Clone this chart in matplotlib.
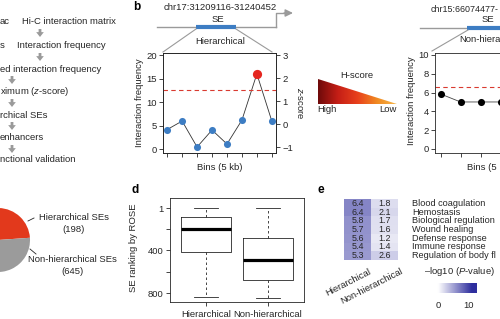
import numpy as np
import matplotlib
matplotlib.use("Agg")
import matplotlib.pyplot as plt
from matplotlib.colors import LinearSegmentedColormap
from matplotlib.patches import Polygon

plt.rcParams["font.family"] = ["Liberation Sans", "DejaVu Sans"]
plt.rcParams["mathtext.fontset"] = "custom"
plt.rcParams["mathtext.rm"] = "Liberation Sans"
plt.rcParams["mathtext.it"] = "Liberation Sans:italic"

W, H = 500, 319

# ---- data ----
se_counts = [198, 645]
se_names = ["Hierarchical SEs", "Non-hierarchical SEs"]

hier_bins = [0, 1, 2, 3, 4, 5, 6, 7]
hier_z = [-0.24, 0.13, -1.0, -0.26, -0.87, 0.17, 2.18, 0.13]
hub_bin = 6
hier_freq_ticks = [0, 5, 10, 15, 20]
z_ticks = [-1, 0, 1, 2, 3]
z_cutoff = 1.5

nonhier_bins = [0, 1, 2, 3]
nonhier_freq = [5.85, 5.0, 5.0, 5.0]
nonhier_freq_ticks = [0, 2, 4, 6, 8, 10]
nonhier_cutoff = 6.6

box_groups = ["Hierarchical", "Non-hierarchical"]
box_low = [1, 1]
box_q1 = [86, 283]
box_med = [198, 490]
box_q3 = [415, 678]
box_high = [838, 843]
rank_ticks = [1, 200, 400, 600, 800]
rank_labels = ["1", "", "400", "", "800"]

go_terms = ["Blood coagulation", "Hemostasis", "Biological regulation",
            "Wound healing", "Defense response", "Immune response",
            "Regulation of body fl"]
go_hier = [6.4, 6.4, 5.8, 5.7, 5.6, 5.4, 5.3]
go_nonhier = [1.8, 2.1, 1.7, 1.6, 1.2, 1.4, 2.6]
go_columns = ["Hierarchical", "Non-hierarchical"]

FS = 6.8
GRAY = "#9a9a9a"
BLUE = "#3d7dc3"
RED = "#e5261f"
DARK = "#262626"

fig = plt.figure(figsize=(W / 100, H / 100), dpi=100)
canvas = fig.add_axes([0, 0, 1, 1])
canvas.axis("off")


def px_axes(x0, y0, x1, y1):
    return fig.add_axes([x0 / W, 1 - y1 / H, (x1 - x0) / W, (y1 - y0) / H])


def txt(x, y, s, **kw):
    kw.setdefault("fontsize", FS)
    kw.setdefault("va", "center")
    kw.setdefault("color", DARK)
    canvas.text(x, y, s, **kw)


def down_arrow(x, y):
    canvas.annotate("", xy=(x, y + 4), xytext=(x, y - 4),
                    arrowprops=dict(arrowstyle="simple,head_width=0.55,head_length=0.35,tail_width=0.2",
                                    fc=GRAY, ec="none", shrinkA=0, shrinkB=0))


def r_style(ax):
    for sp in ax.spines.values():
        sp.set_linewidth(0.6)
        sp.set_color(DARK)
    ax.tick_params(length=3, width=0.6, labelsize=FS, color=DARK, labelcolor=DARK, pad=1.5)


# ---- a: flow chart (cropped) ----
txt(0, 22, "ac")
txt(22, 22, "Hi-C interaction matrix")
down_arrow(40, 33)
txt(0, 45, "s")
txt(17, 45, "Interaction frequency")
down_arrow(40, 57)
txt(0, 69, "ed interaction frequency")
down_arrow(12, 80)
txt(0, 92, r"ximum ($\mathit{z}$-score)")
down_arrow(12, 103)
txt(0, 115, "rchical SEs")
down_arrow(12, 126)
txt(0, 138, "enhancers")
down_arrow(12, 149)
txt(0, 160, "nctional validation")

# ---- pie ----
ax_pie = px_axes(-34, 208, 30, 272)
ax_pie.pie(se_counts, colors=["#e2391c", "#9b9b9b"], startangle=4, counterclock=True)
ax_pie.set_xlim(-1, 1)
ax_pie.set_ylim(-1, 1)
ax_pie.axis("off")
canvas.plot([28, 34], [221, 218], color=DARK, lw=0.6)
canvas.plot([30, 36], [249, 254], color=DARK, lw=0.6)
txt(74, 218, se_names[0], ha="center")
txt(74, 230, f"({se_counts[0]})", ha="center")
txt(72, 260, se_names[1], ha="center")
txt(72, 271, f"({se_counts[1]})", ha="center")

# ---- b: schematic ----
txt(133, 7, "b", fontsize=8.5, fontweight="bold", color="black")
txt(220, 8, "chr17:31209116-31240452", ha="center")
txt(218, 20, "SE", ha="center")
canvas.plot([157, 276], [27, 27], color=GRAY, lw=1)
canvas.plot([276, 276, 286], [27, 13, 13], color=GRAY, lw=1)
canvas.annotate("", xy=(293, 13), xytext=(284, 13),
                arrowprops=dict(arrowstyle="-|>,head_width=0.22,head_length=0.45",
                                color=GRAY, lw=1, shrinkA=0, shrinkB=0))
canvas.plot([196, 236], [27, 27], color=BLUE, lw=3, solid_capstyle="butt")
canvas.plot([196, 163], [29, 52], color=GRAY, lw=0.8)
canvas.plot([236, 272], [29, 52], color=GRAY, lw=0.8)
txt(220, 42, "Hierarchical", ha="center")

ax_b = px_axes(163, 53, 276, 153)
r_style(ax_b)
ax_b.set_xlim(-0.28, 7.28)
ax_b.set_ylim(-0.85, 20.43)
ax_b.set_yticks(hier_freq_ticks)
ax_b.set_xticks(hier_bins)
ax_b.set_xticklabels([])
ax_bz = ax_b.twinx()
r_style(ax_bz)
ax_bz.set_ylim(-1.26, 3.09)
ax_bz.set_yticks(z_ticks)
ax_bz.plot(hier_bins, hier_z, color="#333333", lw=0.6, zorder=1)
non_hub = [i for i in hier_bins if i != hub_bin]
ax_bz.scatter(non_hub, [hier_z[i] for i in non_hub], s=26, color=BLUE, zorder=3, linewidths=0)
ax_bz.scatter([hub_bin], [hier_z[hub_bin]], s=44, color=RED, zorder=3, linewidths=0)
ax_bz.axhline(z_cutoff, color="#d93a30", ls=(0, (4, 3)), lw=0.8)
txt(172, 62, "H-score=2.18")
txt(257, 63, "Hub", ha="center", color=RED)
txt(220, 117, "Non-hub", ha="center", color=BLUE)
txt(220, 168, "Bins (5 kb)", ha="center")
txt(139, 103, "Interaction frequency", ha="center", rotation=90)
txt(300, 103, r"$\mathit{z}$-score", ha="center", rotation=270)

# H-score gradient wedge
tri_cmap = LinearSegmentedColormap.from_list(
    "hs", ["#6e0a0a", "#c41e16", "#e8401c", "#f08a22", "#f7b84c"])
grad = np.linspace(0, 1, 256)[None, :]
im = canvas.imshow(grad, cmap=tri_cmap, extent=[318, 397, 104, 79], aspect="auto")
tri = Polygon([(318, 79), (318, 104), (397, 104)], closed=True, transform=canvas.transData)
im.set_clip_path(tri)
txt(357, 76, "H-score", ha="center")
txt(317, 110, "High")
txt(397, 110, "Low", ha="right")

# second example (cropped at right edge)
txt(431, 9, "chr15:66074477-", fontsize=6.4)
txt(482, 20, "SE")
canvas.plot([420, 467], [28, 28], color=GRAY, lw=1)
canvas.plot([467, 505], [28, 28], color=BLUE, lw=3, solid_capstyle="butt")
canvas.plot([468, 432], [30, 51], color=GRAY, lw=0.8)
txt(459, 40, "Non-hiera")
txt(412, 101, "Interaction frequency", ha="center", rotation=90)
txt(467, 168, "Bins (5")

ax_r = px_axes(435, 53, 586, 153)
r_style(ax_r)
ax_r.set_xlim(-0.28, 7.28)
ax_r.set_ylim(-0.43, 10.21)
ax_r.set_yticks(nonhier_freq_ticks)
ax_r.set_xticks(range(8))
ax_r.set_xticklabels([])
ax_r.plot(nonhier_bins, nonhier_freq, color="#444444", lw=0.6, zorder=1)
ax_r.scatter(nonhier_bins, nonhier_freq, s=26, color="black", zorder=3, linewidths=0)
ax_r.axhline(nonhier_cutoff, color="#d93a30", ls=(0, (4, 3)), lw=0.8)
txt(442, 62, "H-score=0.91")

# ---- d: boxplot ----
txt(132, 190, "d", fontsize=8.5, fontweight="bold", color="black")
ax_d = px_axes(170, 198, 304, 302)
r_style(ax_d)
stats = []
for i, g in enumerate(box_groups):
    stats.append(dict(label=g, whislo=box_low[i], q1=box_q1[i], med=box_med[i],
                      q3=box_q3[i], whishi=box_high[i]))
ax_d.bxp(stats, positions=[1, 2], widths=0.8, capwidths=0.4, showfliers=False,
         boxprops=dict(lw=0.6, color=DARK),
         medianprops=dict(lw=2.3, color="black", solid_capstyle="butt"),
         whiskerprops=dict(lw=0.6, color=DARK, ls=(0, (3, 3))),
         capprops=dict(lw=0.6, color=DARK))
ax_d.set_xlim(0.42, 2.58)
ax_d.set_ylim(884, -93)
ax_d.set_yticks(rank_ticks)
ax_d.set_yticklabels(rank_labels)
ax_d.set_xticks([1, 2])
ax_d.set_xticklabels(box_groups)
ax_d.tick_params(axis="x", pad=3)
canvas.plot([210, 210, 260, 260], [208, 206, 206, 208], color=DARK, lw=0.6)
txt(238, 203.5, "***", ha="center", fontsize=6)
txt(133, 248, "SE ranking by ROSE", ha="center", rotation=90)

# ---- e: GO heatmap ----
txt(318, 190, "e", fontsize=8.5, fontweight="bold", color="black")
heat_cmap = LinearSegmentedColormap.from_list("go", ["#ffffff", "#2e2e9e"])
mat = np.column_stack([go_hier, go_nonhier])
ax_e = px_axes(344, 199, 398, 260)
ax_e.imshow(mat, cmap=heat_cmap, vmin=0, vmax=11, aspect="auto")
ax_e.axis("off")
for i in range(len(go_terms)):
    for j in range(2):
        ax_e.text(j, i, f"{mat[i, j]:.1f}", ha="center", va="center", fontsize=6.4, color=DARK)
    txt(412, 199 + (i + 0.5) * 61 / 7, go_terms[i], fontsize=6.6)
canvas.text(369, 267, go_columns[0], rotation=27, ha="right", va="top",
            rotation_mode="anchor", fontsize=FS, color=DARK)
canvas.text(400, 267, go_columns[1], rotation=27, ha="right", va="top",
            rotation_mode="anchor", fontsize=FS, color=DARK)

ax_cb = px_axes(435, 283, 477, 293)
ax_cb.imshow(np.linspace(-1, 12.6, 256)[None, :], cmap=heat_cmap, vmin=0, vmax=11,
             extent=[-1, 12.6, 0, 1], aspect="auto")
ax_cb.axis("off")
txt(460, 272, r"–log10 ($\mathit{P}$-value)", ha="center")
txt(438, 306, "0", ha="center")
txt(469, 306, "10", ha="center")

canvas.set_xlim(0, W)
canvas.set_ylim(H, 0)

fig.savefig("out.png", dpi=100)
